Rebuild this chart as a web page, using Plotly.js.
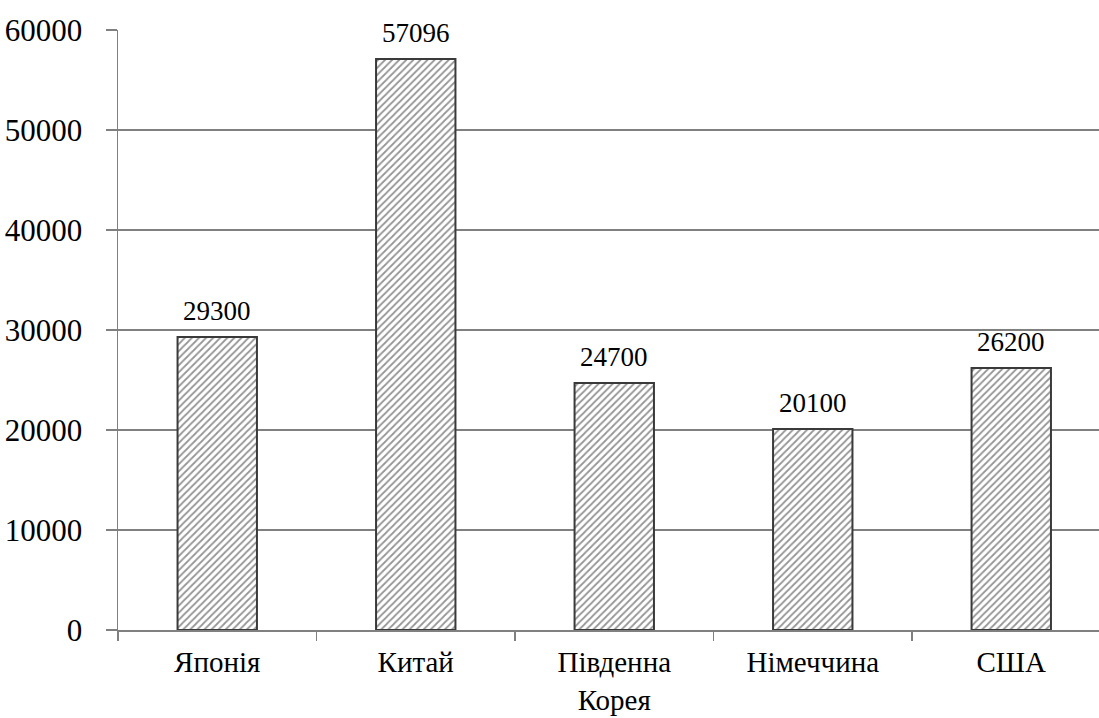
<!DOCTYPE html>
<html>
<head>
<meta charset="utf-8">
<script src="https://cdn.plot.ly/plotly-3.0.1.min.js"></script>
<style>
html,body{margin:0;padding:0;background:#fff;}
#chart{position:relative;z-index:1;width:1099px;height:718px;}
#fontwarm{position:absolute;left:200px;top:200px;z-index:0;font-family:"Liberation Serif";font-size:29px;color:#fff;white-space:nowrap;}
</style>
</head>
<body>
<div id="fontwarm">Південна Корея Японія Китай Німеччина США 0123456789</div>
<div id="chart"></div>
<script>
var categories = ["Японія", "Китай", "Південна<br>Корея", "Німеччина", "США"];
var values = [29300, 57096, 24700, 20100, 26200];
var valueLabels = ["29300", "57096", "24700", "20100", "26200"];
var yTicks = [0, 10000, 20000, 30000, 40000, 50000, 60000];
var yTickLabels = ["0", "10000", "20000", "30000", "40000", "50000", "60000"];

function draw() {
  var trace = {
    type: "bar",
    x: categories,
    y: values,
    width: 0.4,
    marker: {
      color: "#ffffff",
      line: {color: "#3a3a3a", width: 2},
      pattern: {shape: "/", size: 5, solidity: 0.35, fgcolor: "#2a2a2a", bgcolor: "#ffffff", fillmode: "overlay"}
    },
    hoverinfo: "none"
  };

  var annotations = categories.map(function(c, i) {
    return {
      x: c, y: values[i], xref: "x", yref: "y",
      text: valueLabels[i], showarrow: false,
      yanchor: "bottom", yshift: 9,
      font: {family: "Liberation Serif", size: 27}
    };
  });

  var layout = {
    width: 1099, height: 718,
    margin: {l: 118, r: 0, t: 30, b: 88, pad: 0},
    paper_bgcolor: "#ffffff", plot_bgcolor: "#ffffff",
    showlegend: false,
    font: {family: "Liberation Serif", size: 29, color: "#000000"},
    xaxis: {
      type: "category",
      range: [-0.5, 4.442],
      showline: true, linecolor: "#808080", linewidth: 1.5,
      ticks: "outside", ticklen: 9, tickcolor: "#808080", tickwidth: 1.5,
      tickson: "boundaries",
      showgrid: false, zeroline: false,
      tickfont: {family: "Liberation Serif", size: 29},
      ticklabelstandoff: 6,
      automargin: false
    },
    yaxis: {
      range: [0, 60000],
      tickvals: yTicks, ticktext: yTickLabels,
      showline: true, linecolor: "#808080", linewidth: 1.5,
      ticks: "outside", ticklen: 11, tickcolor: "#808080", tickwidth: 1.5,
      showgrid: true, gridcolor: "#808080", gridwidth: 1.5,
      zeroline: false,
      tickfont: {family: "Liberation Serif", size: 31},
      ticklabelstandoff: 17,
      automargin: false
    },
    annotations: annotations
  };

  Plotly.newPlot("chart", [trace], layout, {displayModeBar: false, staticPlot: true});
}

draw();
</script>
</body>
</html>
